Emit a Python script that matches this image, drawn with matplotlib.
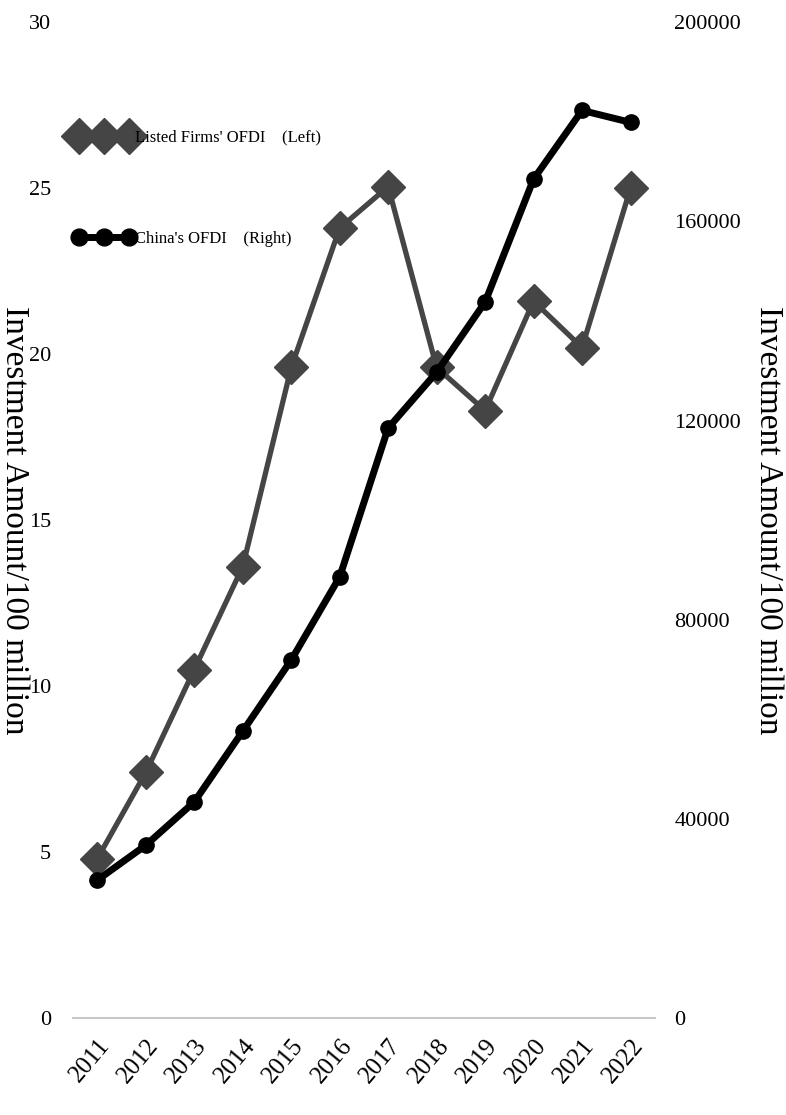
import matplotlib.pyplot as plt

plt.rcParams['font.family'] = ['Liberation Serif', 'Noto Sans CJK SC', 'DejaVu Serif']

years = ['2011', '2012', '2013', '2014', '2015', '2016',
         '2017', '2018', '2019', '2020', '2021', '2022']
# listed firms' OFDI, left axis
listed = [4.8, 7.4, 10.5, 13.6, 19.6, 23.8, 25.05, 19.6, 18.3, 21.6, 20.2, 25.0]
# China's OFDI, right axis
china = [27700, 34700, 43400, 57600, 71900, 88600,
         118500, 129700, 143800, 168500, 182300, 179900]

left_ticks = [0, 5, 10, 15, 20, 25, 30]
right_ticks = [0, 40000, 80000, 120000, 160000, 200000]

fig = plt.figure(figsize=(7.86, 11.15), dpi=100)
ax = fig.add_axes([0.093, 0.087, 0.74, 0.893])
ax2 = ax.twinx()

x = list(range(len(years)))
l1, = ax.plot(x, listed, color='#454545', lw=3.8, marker='D', ms=17,
              label="Listed Firms' OFDI\u3000(Left)")
l2, = ax2.plot(x, china, color='black', lw=5, marker='o', ms=11,
               label="China's OFDI\u3000(Right)")

ax.set_xlim(-0.5, len(years) - 0.5)
ax.set_ylim(0, 30)
ax2.set_ylim(0, 200000)
ax.set_yticks(left_ticks)
ax2.set_yticks(right_ticks)
ax.set_xticks(x)
ax.set_xticklabels(years, rotation=50, ha='right', rotation_mode='anchor')

for a in (ax, ax2):
    for s in a.spines.values():
        s.set_visible(False)
    a.tick_params(length=0, labelsize=16)
ax.spines['bottom'].set_visible(True)
ax.spines['bottom'].set_color('#c8c8c8')
ax.spines['bottom'].set_linewidth(1.5)
ax.tick_params(axis='y', pad=16)
ax2.tick_params(axis='y', pad=14)
ax.tick_params(axis='x', labelsize=18, pad=12)

ax.set_ylabel('Investment Amount/100 million', fontsize=24, rotation=270,
              va='center', ha='center')
ax2.set_ylabel('Investment Amount/100 million', fontsize=24, rotation=270,
               va='center', ha='center')
ax.yaxis.set_label_coords(-0.102, 0.5)
ax2.yaxis.set_label_coords(1.195, 0.5)

leg = fig.legend(handles=[l1, l2], loc='upper left',
                 bbox_to_anchor=(0.075, 0.897), frameon=False, fontsize=12,
                 numpoints=3, handlelength=3.6, handletextpad=0.05,
                 labelspacing=5.1, markerscale=1.1)

fig.savefig('out.png', dpi=100)
